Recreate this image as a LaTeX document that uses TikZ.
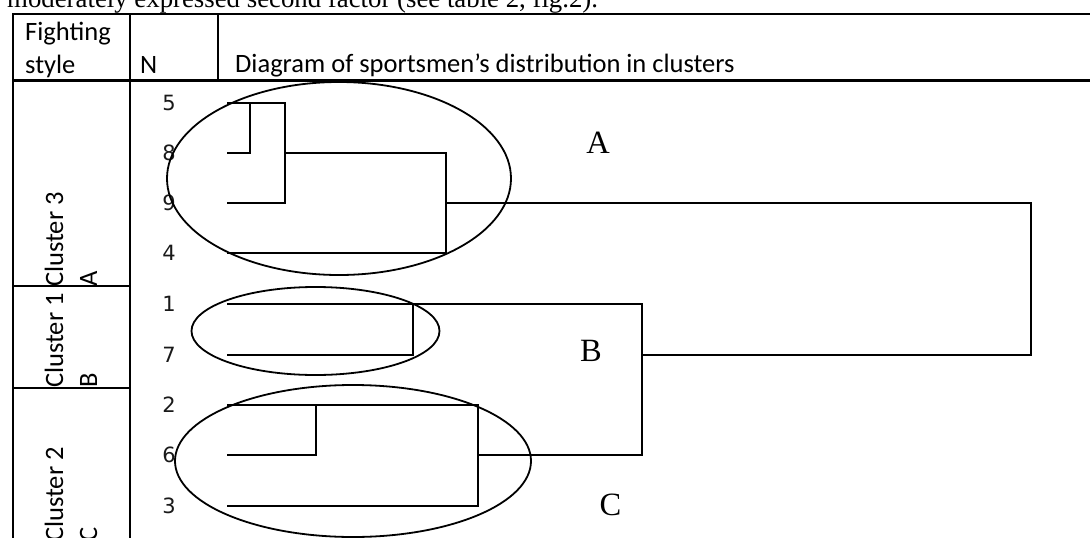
\documentclass[tikz,border=0pt]{standalone}
\usepackage{fontspec}
\setmainfont{Liberation Serif}
\newfontfamily\calibrifont{Carlito}
\newfontfamily\digitfont{DejaVu Sans}
\usetikzlibrary{shapes.geometric}
\begin{document}
\begin{tikzpicture}[x=1pt,y=-1pt,
  grid/.style={line width=2.6pt, line cap=rect},
  dend/.style={line width=2.2pt},
  ring/.style={ellipse, draw, line width=1.8pt, inner sep=0pt},
  hdr/.style={font=\calibrifont\fontsize{26.5}{30}\selectfont, inner sep=0pt, anchor=base west},
  vtxt/.style={font=\calibrifont\fontsize{26.5}{30}\selectfont, inner sep=0pt, anchor=base west, rotate=90},
  leaf/.style={font=\digitfont\fontsize{21}{24}\selectfont, inner sep=0pt, text=black!90},
  lab/.style={font=\fontsize{32.5}{36}\selectfont, inner sep=0pt}
]
\useasboundingbox (0,0) rectangle (1090,538);
\clip (0,0) rectangle (1090,538);

% intro text (cut at the top)
\node[anchor=base west, inner sep=0pt, font=\fontsize{26.8}{30}\selectfont] (intro) at (7,8) {moderately expressed second factor (see table 2, fig.2).};

% table rules
\draw[grid] (13,14) -- (1095,14);
\draw[grid] (13,80.5) -- (1095,80.5);
\draw[grid] (13,14) -- (13,545);
\draw[grid] (130,14) -- (130,545);
\draw[grid] (218,14) -- (218,80.5);
\draw[grid] (13,286) -- (130,286);
\draw[grid] (13,388) -- (130,388);

% headers
\node[hdr] (fs1) at (25,40) {Fighting};
\node[hdr] (fs2) at (25,73) {style};
\node[hdr] (nh) at (140,73) {N};
\node[hdr] (dh) at (235,72) {Diagram of sportsmen’s distribution in clusters};

% cluster labels
\node[vtxt] (c3) at (63,287) {Cluster 3};
\node[vtxt] (c3a) at (97,287) {A};
\node[vtxt] (c1) at (63,388) {Cluster 1};
\node[vtxt] (c1b) at (97,388) {B};
\node[vtxt] (c2) at (63,542) {Cluster 2};
\node[vtxt] (c2c) at (97,542) {C};

% leaf numbers
\node[leaf] (n5) at (169,103) {5};
\node[leaf] (n8) at (169,153) {8};
\node[leaf] (n9) at (169,203) {9};
\node[leaf] (n4) at (169,253) {4};
\node[leaf] (n1) at (169,304) {1};
\node[leaf] (n7) at (169,355) {7};
\node[leaf] (n2) at (169,405) {2};
\node[leaf] (n6) at (169,455) {6};
\node[leaf] (n3) at (169,506) {3};

% leaf starts
\coordinate (l5) at (227,103);
\coordinate (l8) at (227,153);
\coordinate (l9) at (227,203);
\coordinate (l4) at (227,253);
\coordinate (l1) at (227,304);
\coordinate (l7) at (227,355);
\coordinate (l2) at (227,405);
\coordinate (l6) at (227,455);
\coordinate (l3) at (227,506);

% joints
\coordinate (p58) at (250,103);  \coordinate (q58) at (250,153);
\coordinate (p589) at (285,103); \coordinate (q589) at (285,203); \coordinate (o589) at (285,153);
\coordinate (pA) at (446,153);   \coordinate (qA) at (446,253);   \coordinate (oA) at (446,203);
\coordinate (pB) at (413,304);   \coordinate (qB) at (413,355);
\coordinate (p26) at (316,405);  \coordinate (q26) at (316,455);
\coordinate (pC) at (478,405);   \coordinate (qC) at (478,506);   \coordinate (oC) at (478,455);
\coordinate (pBC) at (642,304);  \coordinate (qBC) at (642,455);  \coordinate (oBC) at (642,355);
\coordinate (pR) at (1031,203);  \coordinate (qR) at (1031,355);

% dendrogram
\draw[dend] (l5) -- (p589) -- (q589) -- (l9);
\draw[dend] (l8) -- (q58) -- (p58);
\draw[dend] (o589) -- (pA) -- (qA) -- (l4);
\draw[dend] (oA) -- (pR) -- (qR) -- (oBC);
\draw[dend] (l1) -- (pBC) -- (qBC) -- (oC);
\draw[dend] (l7) -- (qB) -- (pB);
\draw[dend] (l2) -- (pC) -- (qC) -- (l3);
\draw[dend] (l6) -- (q26) -- (p26);

% ellipses
\node[ring, minimum width=344pt, minimum height=193pt] (eA) at (339,178.5) {};
\node[ring, minimum width=248pt, minimum height=88pt] (eB) at (315.5,331) {};
\node[ring, minimum width=356pt, minimum height=152pt] (eC) at (353,461) {};

% group letters
\node[lab] (la) at (598,142.5) {A};
\node[lab] (lb) at (591,351) {B};
\node[lab] (lc) at (610.5,505) {C};
\end{tikzpicture}
\end{document}
